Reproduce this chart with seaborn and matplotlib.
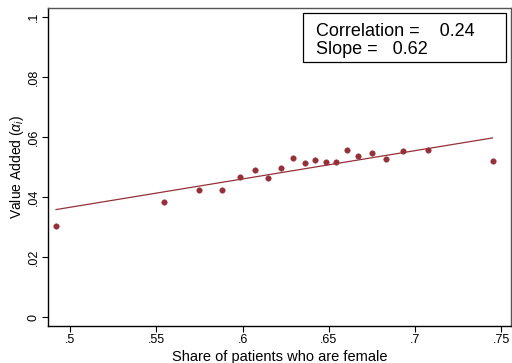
import matplotlib
matplotlib.use("Agg")
import matplotlib.pyplot as plt
import seaborn as sns
import pandas as pd
from matplotlib.patches import Rectangle

# ---- data ----
share_female = [0.4917, 0.5543, 0.5747, 0.5879, 0.5982, 0.6072, 0.6149, 0.6221,
                0.6290, 0.6360, 0.6419, 0.6483, 0.6541, 0.6603, 0.6670, 0.6750,
                0.6831, 0.6931, 0.7076, 0.7449]
value_added = [0.0304, 0.0384, 0.0425, 0.0425, 0.0468, 0.0491, 0.0464, 0.0499,
               0.0531, 0.0514, 0.0525, 0.0519, 0.0518, 0.0557, 0.0539, 0.0547,
               0.0529, 0.0554, 0.0559, 0.0521]
fit_x = [0.4917, 0.7449]
fit_y = [0.0359, 0.0598]
x_ticks = [0.5, 0.55, 0.6, 0.65, 0.7, 0.75]
x_ticklabels = [".5", ".55", ".6", ".65", ".7", ".75"]
y_ticks = [0, 0.02, 0.04, 0.06, 0.08, 0.1]
y_ticklabels = ["0", ".02", ".04", ".06", ".08", ".1"]
corr_text = "Correlation =    0.24"
slope_text = "Slope =   0.62"

df = pd.DataFrame({"x": share_female, "y": value_added})
fit = pd.DataFrame({"x": fit_x, "y": fit_y})

sns.set_style("white")
plt.rcParams["font.family"] = ["Liberation Sans", "DejaVu Sans"]
plt.rcParams["mathtext.fontset"] = "custom"
plt.rcParams["mathtext.rm"] = "Liberation Sans"
plt.rcParams["mathtext.it"] = "Liberation Sans:italic"
plt.rcParams["text.color"] = "black"
plt.rcParams["axes.labelcolor"] = "black"
plt.rcParams["xtick.color"] = "black"
plt.rcParams["ytick.color"] = "black"

color = "#953039"

fig = plt.figure(figsize=(5.12, 3.63), dpi=100)
ax = fig.add_axes([0.0932, 0.1027, 0.998 - 0.0932, 0.978 - 0.1027])

sns.lineplot(data=fit, x="x", y="y", ax=ax, color=color, linewidth=0.9)
sns.scatterplot(data=df, x="x", y="y", ax=ax, color=color, s=16,
                edgecolor=color, linewidth=0.3, zorder=3)

ax.set_xlim(0.487, 0.7555)
ax.set_ylim(-0.0028, 0.1031)
ax.set_xticks(x_ticks)
ax.set_xticklabels(x_ticklabels, fontsize=9)
ax.set_yticks(y_ticks)
ax.set_yticklabels(y_ticklabels, fontsize=9, rotation=90, va="center")
ax.tick_params(axis="both", direction="out", length=4, width=0.8, color="black",
               labelcolor="black", bottom=True, left=True)
ax.tick_params(axis="x", pad=2)
ax.tick_params(axis="y", pad=2)

ax.set_xlabel("Share of patients who are female", fontsize=10.5, labelpad=3,
              color="black")
ax.set_ylabel(r"Value Added ($\alpha_i$)", fontsize=10, labelpad=1, color="black")

for side in ["left", "bottom"]:
    ax.spines[side].set_color("black")
    ax.spines[side].set_linewidth(1.0)
for side in ["top", "right"]:
    ax.spines[side].set_visible(True)
    ax.spines[side].set_color("#555555")
    ax.spines[side].set_linewidth(1.0)

# annotation box
fig.patches.append(Rectangle((302.7 / 512, 1 - 61.7 / 363), 203.3 / 512, 48.4 / 363,
                             transform=fig.transFigure, fill=False,
                             edgecolor="black", linewidth=0.9))
fig.text(316 / 512, 1 - 35.7 / 363, corr_text, fontsize=13, va="baseline", ha="left",
         color="black")
fig.text(316 / 512, 1 - 54 / 363, slope_text, fontsize=13, va="baseline", ha="left",
         color="black")

fig.savefig("out.png", dpi=100)
